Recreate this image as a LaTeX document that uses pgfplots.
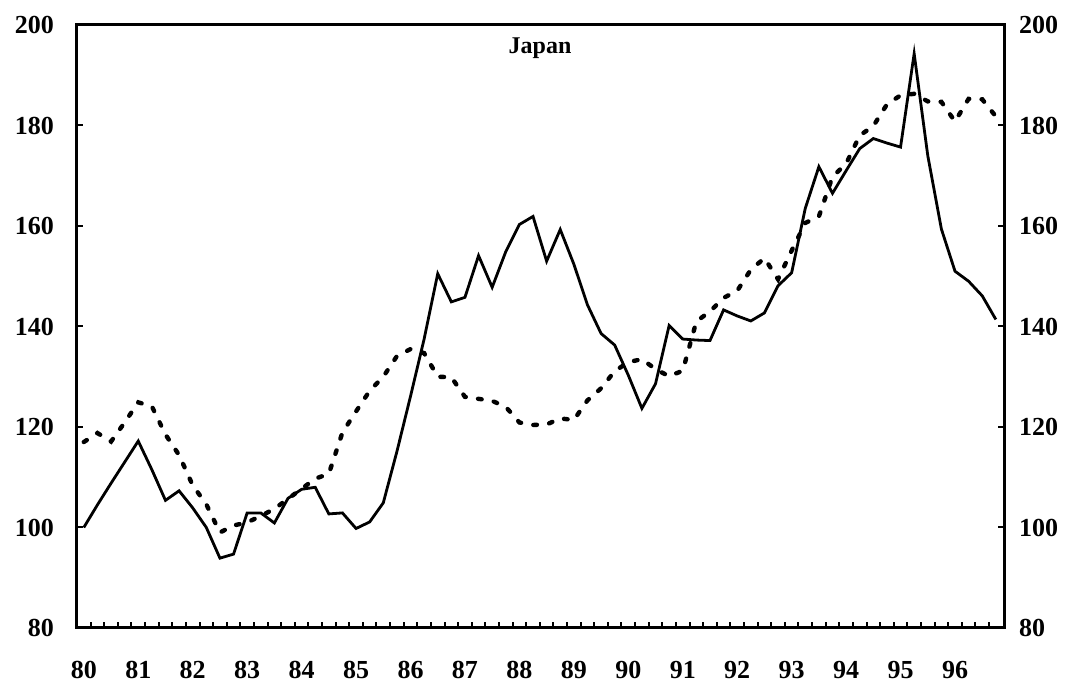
\documentclass[border=0pt]{standalone}
\usepackage{pgfplots}
\pgfplotsset{compat=1.18}
\usepackage{fontspec}
\setmainfont{Liberation Serif}
\begin{document}
\begin{tikzpicture}
\useasboundingbox (-38.5pt,-30pt) rectangle (502.5pt,314pt);
\pgfplotsset{
 common/.style={
  at={(0,0)}, anchor=south west,
  scale only axis, width=463.5pt, height=301.5pt,
  xmin=-0.5, xmax=67.6, ymin=80, ymax=200,
  ytick={80,100,...,200},
  tick align=inside,
  major tick length=3pt,
  minor tick length=3pt,
  /pgf/number format/assume math mode=true,
  ticklabel style={font=\fontsize{13}{15}\selectfont\bfseries},
  axis line style={line width=1.5pt},
  tick style={line width=1pt, black},
 }
}
\begin{axis}[common,
  xtick={0,4,...,64},
  xticklabels={80,81,82,83,84,85,86,87,88,89,90,91,92,93,94,95,96},
  major x tick style={draw=none},
  minor xtick={0.5,1.5,...,66.5},
  xtick pos=left, ytick pos=left,
  xticklabel style={yshift=-13pt},
  yticklabel style={xshift=-8pt},
]
\addplot[black, line width=1.4pt] coordinates {
(0,100) (1,104.5) (2,108.8) (3,113.0) (4,117.2) (5,111.5) (6,105.4) (7,107.3)
(8,103.9) (9,100.0) (10,93.9) (11,94.7) (12,102.9) (13,102.9) (14,100.9) (15,105.8)
(16,107.6) (17,108.0) (18,102.7) (19,102.9) (20,99.8) (21,101.1) (22,104.9) (23,115.1)
(24,126.1) (25,137.5) (26,150.5) (27,144.9) (28,145.8) (29,154.1) (30,147.8) (31,154.9)
(32,160.3) (33,161.9) (34,153.0) (35,159.3) (36,152.4) (37,144.3) (38,138.6) (39,136.3)
(40,130.3) (41,123.7) (42,128.6) (43,140.2) (44,137.5) (45,137.3) (46,137.2) (47,143.3)
(48,142.1) (49,141.1) (50,142.7) (51,148.1) (52,150.7) (53,163.5) (54,171.8) (55,166.5)
(56,171.0) (57,175.4) (58,177.4) (59,176.5) (60,175.7) (61,194.3) (62,174.0) (63,159.4)
(64,151.0) (65,149.0) (66,146.1) (67,141.4)
};
\addplot[black, line width=2.2pt, line cap=round, dash pattern=on 1.8pt off 6.2pt] coordinates {
(0,117.0) (1,118.8) (2,117.1) (3,120.9) (4,124.9) (5,124.1) (6,118.5) (7,114.4)
(8,108.4) (9,104.6) (10,99.0) (11,100.4) (12,101.0) (13,102.3) (14,103.7) (15,105.7)
(16,107.7) (17,109.7) (18,110.7) (19,118.9) (20,123.1) (21,127.2) (22,130.0) (23,134.1)
(24,135.5) (25,134.7) (26,130.0) (27,129.9) (28,126.0) (29,125.6) (30,125.2) (31,124.0)
(32,120.9) (33,120.4) (34,120.5) (35,121.7) (36,121.4) (37,125.3) (38,127.7) (39,131.1)
(40,132.9) (41,133.5) (42,131.5) (43,130.1) (44,131.2) (45,141.0) (46,143.0) (47,145.7)
(48,147.1) (49,151.3) (50,153.6) (51,149.4) (52,155.1) (53,160.6) (54,161.9) (55,169.8)
(56,172.4) (57,178.0) (58,179.9) (59,184.2) (60,186.0) (61,186.3) (62,184.8) (63,184.7)
(64,180.8) (65,185.3) (66,185.2) (67,181.8)
};
\node[font=\fontsize{12}{14}\selectfont\bfseries] at (rel axis cs:0.4995,0.962) {Japan};
\end{axis}
\begin{axis}[common,
  hide x axis,
  axis y line*=right,
  ytick pos=right,
  yticklabel pos=right,
  yticklabel style={xshift=4pt},
]
\end{axis}
\end{tikzpicture}
\end{document}
